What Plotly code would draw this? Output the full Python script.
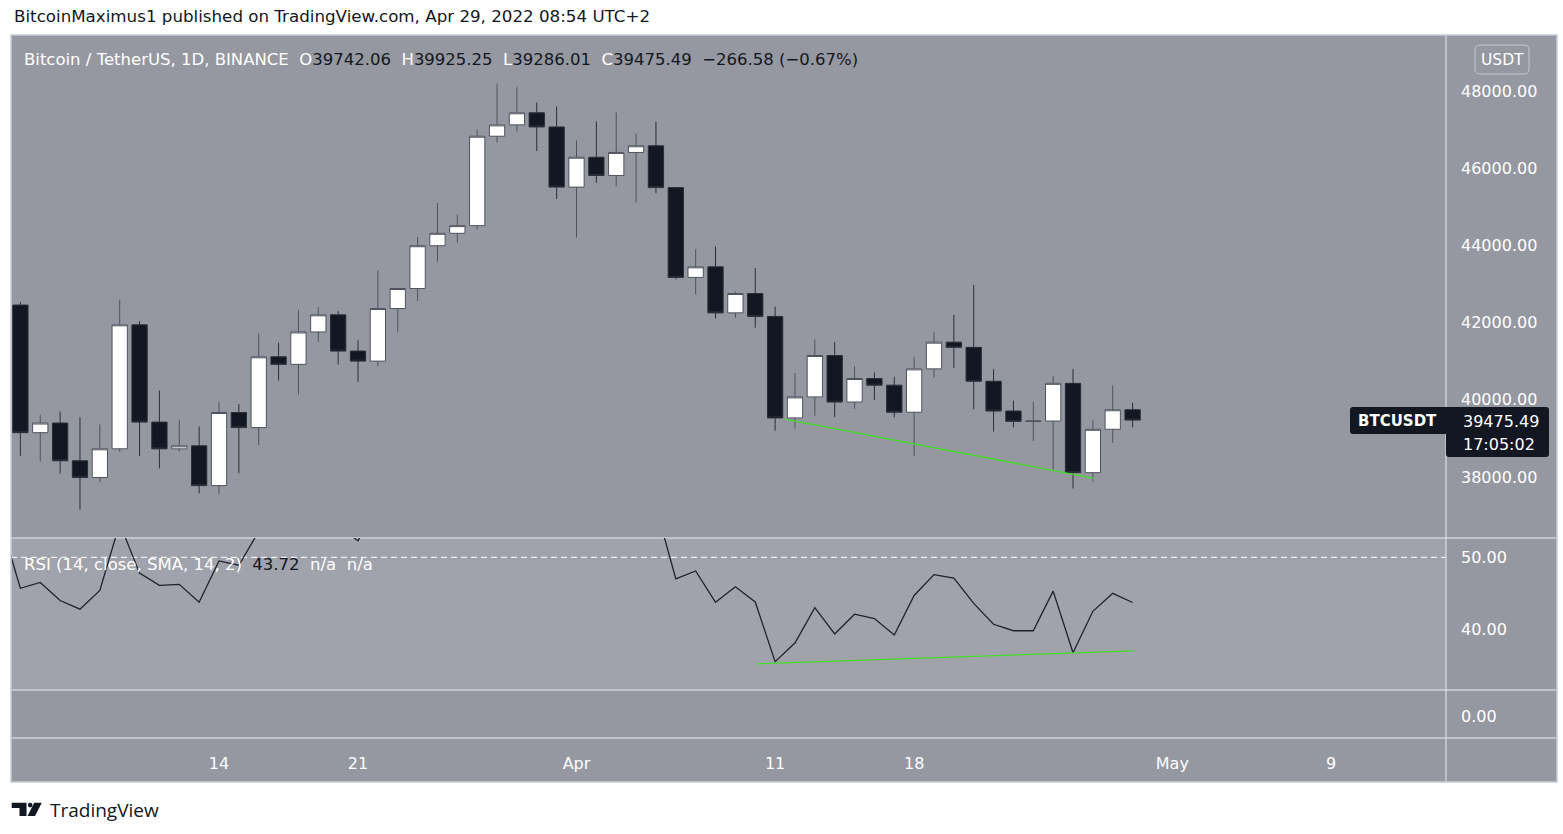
import plotly.graph_objects as go
import pandas as pd

W, H = 1563, 834
FONT = "DejaVu Sans"

# ---------------- data ----------------
dates = pd.date_range("2022-03-04", periods=57, freq="D")
opens = [42454.00, 39148.65, 39397.97, 38420.80, 37988.01, 38730.63, 41941.70, 39422.01, 38729.57, 38807.35,
         37777.35, 39671.37, 39280.33, 41114.01, 40917.89, 41757.51, 42201.13, 41262.11, 41002.26, 42364.13,
         42882.99, 43991.46, 44313.16, 44511.27, 46827.76, 47122.21, 47434.79, 47067.99,
         45510.35, 46283.49, 45810.99, 46407.36, 46580.50, 45497.54, 43170.47, 43444.20, 42252.02, 42753.96,
         42158.85, 39530.45, 40074.95, 41147.78, 39942.37, 40551.90, 40378.70, 39678.11, 40801.13, 41493.19,
         41358.19, 40480.01, 39709.19, 39441.61, 39450.12, 40426.08, 38112.64, 39235.72, 39742.06]
highs = [42527.30, 39613.24, 39693.87, 39547.57, 39362.08, 42594.06, 42039.63, 40236.26, 39486.71, 39310.00,
         39947.12, 39887.61, 41718.00, 41478.82, 42325.02, 42400.00, 42296.26, 41544.22, 43361.00, 42893.51,
         44220.89, 45094.14, 44792.99, 46999.00, 48189.84, 48096.47, 47700.00, 47600.00,
         46720.09, 47213.00, 47444.11, 46890.71, 47200.00, 45507.14, 43900.99, 43970.62, 42800.00, 43410.30,
         42414.71, 40699.00, 41561.31, 41500.00, 40870.36, 40709.35, 40595.67, 41116.73, 41760.00, 42199.00,
         42976.00, 40795.06, 39980.00, 39940.00, 40616.00, 40797.31, 39474.72, 40372.63, 39925.25]
lows = [38550.00, 38407.59, 38088.57, 37155.00, 37867.65, 38656.45, 38539.73, 38223.60, 38660.52, 37578.51,
        37555.00, 38098.33, 38828.48, 40500.00, 40135.04, 41499.29, 40911.00, 40467.94, 40875.51, 41751.47,
        42560.46, 43579.00, 44071.97, 44421.46, 46663.56, 46950.85, 46445.42, 45200.00,
        44200.00, 45620.00, 45530.92, 45118.00, 45353.81, 43121.00, 42727.35, 42107.14, 42125.48, 41868.00,
        39200.00, 39254.63, 39588.54, 39551.94, 39766.40, 39991.55, 39546.17, 38536.51, 40571.00, 40820.00,
        39751.00, 39177.00, 39285.00, 38929.62, 38200.00, 37702.26, 37881.76, 38881.43, 39286.01]
closes = [39148.66, 39397.96, 38420.81, 37988.00, 38730.63, 41941.71, 39422.00, 38729.57, 38807.36, 37777.34,
          39671.37, 39280.33, 41114.00, 40917.90, 41757.51, 42201.13, 41262.11, 41002.25, 42364.13, 42882.99,
          43991.46, 44313.16, 44511.27, 46827.76, 47122.21, 47434.80, 47067.99, 45510.34,
          46283.49, 45811.00, 46407.35, 46580.51, 45497.55, 43170.47, 43444.19, 42252.01, 42753.97, 42158.85,
          39530.45, 40074.94, 41147.79, 39942.38, 40551.90, 40378.71, 39678.12, 40801.13, 41493.18, 41358.19,
          40480.01, 39709.18, 39441.60, 39450.13, 40426.08, 38112.65, 39235.72, 39742.07, 39475.49]

rsi_dates = pd.date_range("2022-03-03", periods=58, freq="D")
rsi_values = [55.0, 45.7, 46.5, 44.0, 42.8, 45.4, 54.7, 47.8, 46.1, 46.25,
              43.75, 49.5, 48.9, 53.6, 53.2, 56.3, 58.2, 54.3, 52.3, 57.5,
              59.6, 63.5, 64.6, 65.3, 70.4, 71.2, 72.0, 69.6, 61.0,
              63.7, 61.0, 62.8, 63.3, 57.0, 47.0, 48.1, 43.75, 45.9, 43.8,
              35.5, 38.1, 43.0, 39.35, 42.1, 41.5, 39.2, 44.7, 47.6, 47.1,
              43.6, 40.7, 39.8, 39.8, 45.3, 36.75, 42.5, 45.0, 43.72]

price_trend_dates = ["2022-04-11 12:00", "2022-04-27 01:30"]
price_trend_values = [39500, 37965]
rsi_trend_dates = ["2022-04-10 01:00", "2022-04-29 02:00"]
rsi_trend_values = [35.2, 37.0]

price_ticks = [38000, 40000, 42000, 44000, 46000, 48000]
rsi_ticks = [40, 50]
aux_ticks = [0]
x_tick_dates = ["2022-03-14", "2022-03-21", "2022-04-01", "2022-04-11", "2022-04-18", "2022-05-01", "2022-05-09"]
x_tick_labels = ["14", "21", "Apr", "11", "18", "May", "9"]

# ---------------- helpers ----------------
def px(x):
    return x / W


def py(y):
    return 1 - y / H


def rrect(x0, y0, x1, y1, r):
    pts = [
        f"M {px(x0 + r)},{py(y0)}",
        f"L {px(x1 - r)},{py(y0)}",
        f"Q {px(x1)},{py(y0)} {px(x1)},{py(y0 + r)}",
        f"L {px(x1)},{py(y1 - r)}",
        f"Q {px(x1)},{py(y1)} {px(x1 - r)},{py(y1)}",
        f"L {px(x0 + r)},{py(y1)}",
        f"Q {px(x0)},{py(y1)} {px(x0)},{py(y1 - r)}",
        f"L {px(x0)},{py(y0 + r)}",
        f"Q {px(x0)},{py(y0)} {px(x0 + r)},{py(y0)} Z",
    ]
    return " ".join(pts)


BG = "#9598a1"
RSI_BG = "#a0a3ab"
SEP = "#cfd2d8"
DARK = "#131722"
GREEN = "#44dd2a"
WHITE = "#ffffff"

fig = go.Figure()

fig.add_trace(go.Candlestick(
    x=dates, open=opens, high=highs, low=lows, close=closes,
    increasing=dict(fillcolor=WHITE, line=dict(color="#50535e", width=1)),
    decreasing=dict(fillcolor=DARK, line=dict(color="#2a2e39", width=1)),
    whiskerwidth=0, xaxis="x", yaxis="y", showlegend=False, hoverinfo="skip",
))
fig.add_trace(go.Scatter(
    x=price_trend_dates, y=price_trend_values, mode="lines",
    line=dict(color=GREEN, width=1.3), xaxis="x", yaxis="y", showlegend=False, hoverinfo="skip",
))
fig.add_trace(go.Scatter(
    x=rsi_dates, y=rsi_values, mode="lines",
    line=dict(color="#1e222d", width=1.3), xaxis="x", yaxis="y2", showlegend=False, hoverinfo="skip",
))
fig.add_trace(go.Scatter(
    x=rsi_trend_dates, y=rsi_trend_values, mode="lines",
    line=dict(color=GREEN, width=1.3), xaxis="x", yaxis="y2", showlegend=False, hoverinfo="skip",
))
# empty third pane (keeps its axis alive)
fig.add_trace(go.Scatter(
    x=[dates[0]], y=[aux_ticks[0]], mode="markers", marker=dict(opacity=0),
    xaxis="x", yaxis="y3", showlegend=False, hoverinfo="skip",
))

shapes = [
    dict(type="rect", xref="paper", yref="paper", x0=px(11), x1=px(1557), y0=py(782), y1=py(35),
         fillcolor=BG, line=dict(width=0), layer="below"),
    dict(type="rect", xref="paper", yref="paper", x0=px(11), x1=px(1446), y0=py(690), y1=py(538),
         fillcolor=RSI_BG, line=dict(width=0), layer="below"),
    dict(type="line", xref="paper", yref="y2", x0=px(11), x1=px(1446), y0=50, y1=50,
         line=dict(color=WHITE, width=1, dash="6px,4px"), layer="below"),
]
for yy in (538, 690, 738):
    shapes.append(dict(type="line", xref="paper", yref="paper", x0=px(11), x1=px(1557), y0=py(yy), y1=py(yy),
                       line=dict(color=SEP, width=1.5), layer="below"))
shapes.append(dict(type="line", xref="paper", yref="paper", x0=px(1446), x1=px(1446), y0=py(782), y1=py(35),
                   line=dict(color="#e6e8ec", width=1), layer="below"))
shapes.append(dict(type="rect", xref="paper", yref="paper", x0=px(11), x1=px(1557), y0=py(782), y1=py(35),
                   line=dict(color="#c9ccd6", width=1.5), fillcolor="rgba(0,0,0,0)", layer="above"))
shapes.append(dict(type="path", xref="paper", yref="paper", path=rrect(1475, 45, 1529, 74, 5),
                   line=dict(color="#c4c7cf", width=1), fillcolor="rgba(0,0,0,0)", layer="above"))
shapes.append(dict(type="path", xref="paper", yref="paper", path=rrect(1350, 407, 1549, 434, 3),
                   line=dict(width=0), fillcolor=DARK, layer="above"))
shapes.append(dict(type="path", xref="paper", yref="paper", path=rrect(1446, 430, 1549, 457, 3),
                   line=dict(width=0), fillcolor=DARK, layer="above"))
# TradingView logo
shapes.append(dict(type="path", xref="paper", yref="paper",
                   path=f"M {px(11.7)},{py(802.7)} L {px(26.5)},{py(802.7)} L {px(26.5)},{py(816)} "
                        f"L {px(19.5)},{py(816)} L {px(19.5)},{py(808)} L {px(11.7)},{py(808)} Z",
                   line=dict(width=0), fillcolor=DARK, layer="above"))
shapes.append(dict(type="circle", xref="paper", yref="paper", x0=px(27.9), x1=px(32.5), y0=py(807.4), y1=py(802.8),
                   line=dict(width=0), fillcolor=DARK, layer="above"))
shapes.append(dict(type="path", xref="paper", yref="paper",
                   path=f"M {px(34.2)},{py(802.7)} L {px(41.8)},{py(802.7)} L {px(35.0)},{py(816)} "
                        f"L {px(27.6)},{py(816)} Z",
                   line=dict(width=0), fillcolor=DARK, layer="above"))


def ann(x, y, text, size=15, color=WHITE, xanchor="left", family=FONT):
    return dict(x=px(x), y=py(y), xref="paper", yref="paper", text=text, showarrow=False,
                xanchor=xanchor, yanchor="middle", align="left",
                font=dict(family=family, size=size, color=color))


nb = "\u00a0"
legend_text = (
    f"<span style='color:{WHITE}'>Bitcoin / TetherUS, 1D, BINANCE{nb}{nb}O</span>"
    f"<span style='color:{DARK}'>39742.06</span>"
    f"<span style='color:{WHITE}'>{nb}{nb}H</span><span style='color:{DARK}'>39925.25</span>"
    f"<span style='color:{WHITE}'>{nb}{nb}L</span><span style='color:{DARK}'>39286.01</span>"
    f"<span style='color:{WHITE}'>{nb}{nb}C</span><span style='color:{DARK}'>39475.49</span>"
    f"<span style='color:{DARK}'>{nb}{nb}\u2212266.58 (\u22120.67%)</span>"
)
rsi_text = (
    f"<span style='color:{WHITE}'>RSI (14, close, SMA, 14, 2)</span>"
    f"<span style='color:{DARK}'>{nb}{nb}43.72</span>"
    f"<span style='color:{WHITE}'>{nb}{nb}n/a{nb}{nb}n/a</span>"
)

annotations = [
    ann(12, 16, "BitcoinMaximus1 published on TradingView.com, Apr 29, 2022 08:54 UTC+2", size=16.7, color=DARK),
    ann(22, 59, legend_text, size=16.5),
    ann(22, 564, rsi_text, size=16.5),
    ann(1502, 59.5, "USDT", size=15.5, xanchor="center"),
    ann(1356, 421, "<b>BTCUSDT</b>", size=15),
    ann(1461, 421, f"{closes[-1]:.2f}", size=16),
    ann(1461, 444, "17:05:02", size=16),
    ann(48, 810, "TradingView", size=19, color=DARK, family="Open Sans"),
]

axis_font = dict(family=FONT, size=16, color=WHITE)
common_y = dict(side="right", anchor="x", showgrid=False, zeroline=False, showline=False,
                ticks="", tickformat=".2f", tickfont=axis_font, ticklabelstandoff=14, fixedrange=True)

fig.update_layout(
    width=W, height=H, autosize=False,
    margin=dict(l=0, r=0, t=0, b=0, pad=0),
    paper_bgcolor="white", plot_bgcolor="rgba(0,0,0,0)",
    showlegend=False, boxgap=0.23, boxgroupgap=0,
    xaxis=dict(type="date", domain=[px(11), px(1446)], range=["2022-03-03 12:39", "2022-05-14 18:43"],
               anchor="y3", tickvals=x_tick_dates, ticktext=x_tick_labels, showgrid=False, zeroline=False,
               showline=False, ticks="", tickfont=axis_font, ticklabelstandoff=14,
               rangeslider=dict(visible=False)),
    yaxis=dict(domain=[py(538), py(35)], range=[36420, 49450], tickvals=price_ticks, **common_y),
    yaxis2=dict(domain=[py(690), py(538)], range=[31.57, 52.68], tickvals=rsi_ticks, **common_y),
    yaxis3=dict(domain=[py(738), py(690)], range=[-1.1, 1.3], tickvals=aux_ticks, **common_y),
    shapes=shapes,
    annotations=annotations,
)

fig.write_html("out.html")
